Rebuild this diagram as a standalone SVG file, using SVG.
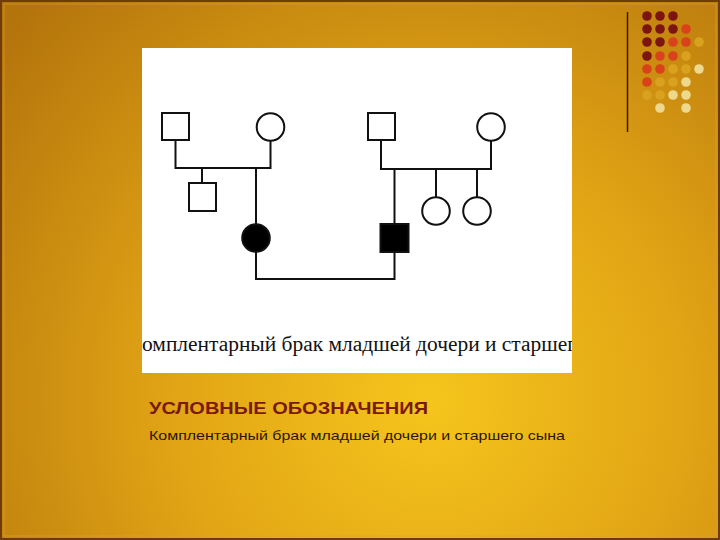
<svg xmlns="http://www.w3.org/2000/svg" width="720" height="540" viewBox="0 0 720 540">
<defs>
<radialGradient id="bg" cx="430" cy="400" r="560" gradientUnits="userSpaceOnUse">
<stop offset="0" stop-color="#f5c51c"/>
<stop offset="0.45" stop-color="#e2a515"/>
<stop offset="1" stop-color="#b4740c"/>
</radialGradient>
<clipPath id="box"><rect x="142" y="48" width="430" height="325"/></clipPath>
<style>
.ln{stroke:#111;stroke-width:2;fill:none}
.op{fill:#fff;stroke:#111;stroke-width:2}
.fl{fill:#000;stroke:#111;stroke-width:2}
.d1{fill:#7c1410}.d2{fill:#d9421a}.d3{fill:#d9a21e}.d4{fill:#ecd98e}
</style>
</defs>
<rect width="720" height="540" fill="url(#bg)"/>
<rect x="1" y="1" width="718" height="538" fill="none" stroke="#6e3c08" stroke-width="2"/>
<rect x="4" y="4" width="712" height="532" fill="none" stroke="#d9a33a" stroke-width="1" opacity="0.6"/>
<g id="decor">
<line x1="627.5" y1="12" x2="627.5" y2="132" stroke="#3a1806" stroke-width="1.5"/>
<circle class="d1" cx="647" cy="16" r="4.8"/><circle class="d1" cx="660" cy="16" r="4.8"/><circle class="d1" cx="673" cy="16" r="4.8"/>
<circle class="d1" cx="647" cy="29" r="4.8"/><circle class="d1" cx="660" cy="29" r="4.8"/><circle class="d1" cx="673" cy="29" r="4.8"/><circle class="d2" cx="686" cy="29" r="4.8"/>
<circle class="d1" cx="647" cy="42" r="4.8"/><circle class="d1" cx="660" cy="42" r="4.8"/><circle class="d2" cx="673" cy="42" r="4.8"/><circle class="d2" cx="686" cy="42" r="4.8"/><circle class="d3" cx="699" cy="42" r="4.8"/>
<circle class="d1" cx="647" cy="56" r="4.8"/><circle class="d2" cx="660" cy="56" r="4.8"/><circle class="d2" cx="673" cy="56" r="4.8"/><circle class="d3" cx="686" cy="56" r="4.8"/>
<circle class="d2" cx="647" cy="69" r="4.8"/><circle class="d2" cx="660" cy="69" r="4.8"/><circle class="d3" cx="673" cy="69" r="4.8"/><circle class="d3" cx="686" cy="69" r="4.8"/><circle class="d4" cx="699" cy="69" r="4.8"/>
<circle class="d2" cx="647" cy="82" r="4.8"/><circle class="d3" cx="660" cy="82" r="4.8"/><circle class="d3" cx="673" cy="82" r="4.8"/><circle class="d4" cx="686" cy="82" r="4.8"/>
<circle class="d3" cx="647" cy="95" r="4.8"/><circle class="d3" cx="660" cy="95" r="4.8"/><circle class="d4" cx="673" cy="95" r="4.8"/><circle class="d4" cx="686" cy="95" r="4.8"/>
<circle class="d4" cx="660" cy="108" r="4.8"/><circle class="d4" cx="686" cy="108" r="4.8"/>
</g>
<rect x="142" y="48" width="430" height="325" fill="#fff"/>
<g id="connectors">
<polyline class="ln" points="175.5,140 175.5,168 270.5,168 270.5,140"/>
<line class="ln" x1="202" y1="168" x2="202" y2="183"/>
<line class="ln" x1="256" y1="168" x2="256" y2="224"/>
<polyline class="ln" points="256,251 256,279 394.5,279 394.5,252"/>
<polyline class="ln" points="381,140 381,169 491,169 491,140"/>
<line class="ln" x1="394.5" y1="169" x2="394.5" y2="224"/>
<line class="ln" x1="436" y1="169" x2="436" y2="197"/>
<line class="ln" x1="477" y1="169" x2="477" y2="197"/>
</g>
<g id="father1"><rect class="op" x="162" y="113" width="27" height="27"/></g>
<g id="mother1"><circle class="op" cx="270.5" cy="127" r="13.8"/></g>
<g id="son1"><rect class="op" x="189" y="183" width="27" height="28"/></g>
<g id="daughter1"><circle class="fl" cx="256" cy="238" r="13.8"/></g>
<g id="father2"><rect class="op" x="368" y="113" width="27" height="27"/></g>
<g id="mother2"><circle class="op" cx="491" cy="127" r="13.8"/></g>
<g id="son2"><rect class="fl" x="380.5" y="224" width="28" height="28"/></g>
<g id="daughter2a"><circle class="op" cx="436" cy="211" r="13.8"/></g>
<g id="daughter2b"><circle class="op" cx="477" cy="211" r="13.8"/></g>
<g clip-path="url(#box)">
<text x="142" y="351" font-family="'Liberation Serif', serif" font-size="20" fill="#111" textLength="434" lengthAdjust="spacingAndGlyphs">омплентарный брак младшей дочери и старшег</text>
</g>
<text x="149" y="414" font-family="'Liberation Sans', Arial, sans-serif" font-size="17" font-weight="bold" fill="#7a1a0c" textLength="279" lengthAdjust="spacingAndGlyphs">УСЛОВНЫЕ ОБОЗНАЧЕНИЯ</text>
<text x="149" y="440" font-family="'Liberation Sans', Arial, sans-serif" font-size="13.5" fill="#2a1608" textLength="416" lengthAdjust="spacingAndGlyphs">Комплентарный брак младшей дочери и старшего сына</text>
</svg>
